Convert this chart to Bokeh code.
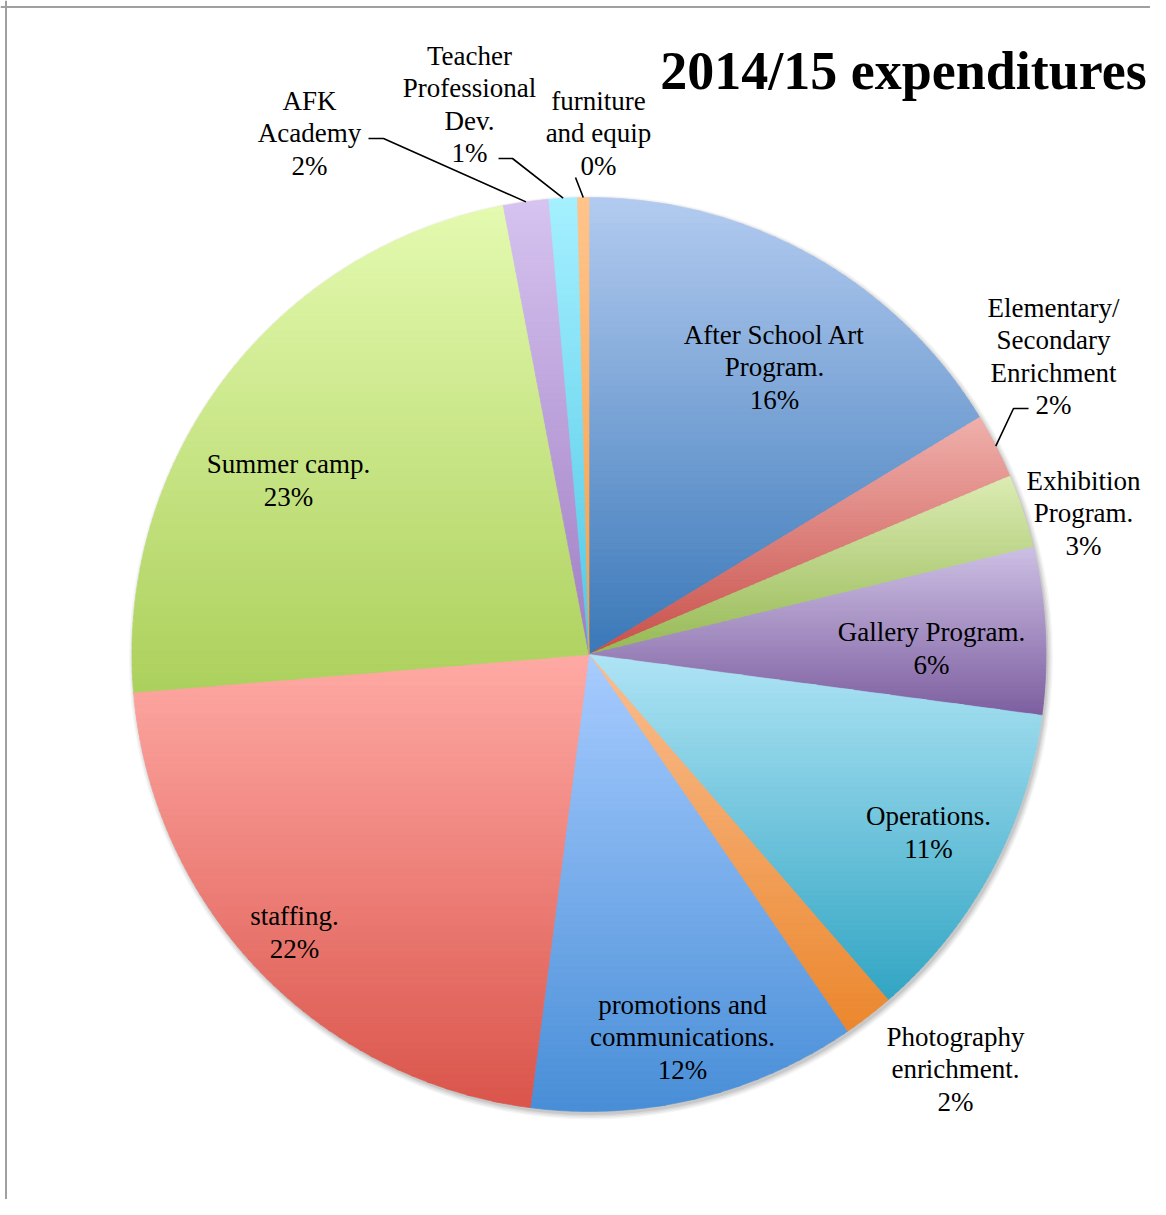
import numpy as np
from bokeh.plotting import figure
from bokeh.models import Range1d, Span, ColumnDataSource
from bokeh.embed import file_html
from bokeh.resources import INLINE
from bokeh.core.properties import value

# ---------------- data ----------------
categories = ["After School Art Program", "Elementary/ Secondary Enrichment",
              "Exhibition Program", "Gallery Program", "Operations",
              "Photography enrichment", "promotions and communications",
              "staffing", "Summer camp", "AFK Academy",
              "Teacher Professional Dev.", "furniture and equip"]
shares = [16.3, 2.3, 2.6, 5.9, 11.5, 1.8, 11.6, 21.6, 23.3, 1.6, 1.0, 0.4]
pct_labels = ["16%", "2%", "3%", "6%", "11%", "2%", "12%", "22%", "23%", "2%", "1%", "0%"]
label_names = ["After School Art\nProgram.", "Elementary/\nSecondary\nEnrichment",
               "Exhibition\nProgram.", "Gallery Program.", "Operations.",
               "Photography\nenrichment.", "promotions and\ncommunications.",
               "staffing.", "Summer camp.", "AFK\nAcademy",
               "Teacher\nProfessional\nDev.", "furniture\nand equip"]
title_text = "2014/15 expenditures"

# ---------------- styles / layout ----------------
top_colors = ["#b3cbf0", "#f0b0ac", "#dcecb4", "#cdc0e4", "#afe4f5", "#fabe91",
              "#a8ccff", "#ffaaa5", "#e4fab0", "#d6c4f0", "#a5f0ff", "#ffc48c"]
bot_colors = ["#3a78b8", "#c8504a", "#96b955", "#7d5fa0", "#32a5c3", "#eb872d",
              "#488ed7", "#da554b", "#acd05c", "#a07dc3", "#50c8e6", "#f5a046"]
CX, CY, R = 588.5, 654.0, 457.0
label_pos = [(774, 367), (1053, 356), (1083, 513), (931, 648), (928, 832),
             (955, 1069), (682, 1037), (294, 932), (288, 480), (309, 133),
             (469, 104), (598, 133)]
leader_elbows = {1: [(1028, 408), (1013, 408)],
                 9: [(368, 138), (383, 138)],
                 10: [(498, 158), (512, 158)],
                 11: [(575, 177)]}
FONT = "Liberation Serif"

W, H = 1150, 1199
p = figure(width=W, height=H, output_backend="svg", toolbar_location=None,
           x_range=Range1d(0, W), y_range=Range1d(H, 0),
           min_border=0, outline_line_color=None, background_fill_color="white")
p.axis.visible = False
p.grid.visible = False


def hex2rgb(h):
    h = h.lstrip("#")
    return np.array([int(h[i:i + 2], 16) for i in (0, 2, 4)], dtype=float)


def rgb2hex(c):
    c = np.clip(np.round(c), 0, 255).astype(int)
    return "#%02x%02x%02x" % tuple(c)


def clip_half(poly, y0, keep_ge):
    out = []
    n = len(poly)
    for i in range(n):
        P = poly[i]
        Q = poly[(i + 1) % n]
        inP = P[1] >= y0 if keep_ge else P[1] <= y0
        inQ = Q[1] >= y0 if keep_ge else Q[1] <= y0
        if inP:
            out.append(P)
        if inP != inQ:
            t = (y0 - P[1]) / (Q[1] - P[1])
            out.append((P[0] + t * (Q[0] - P[0]), y0))
    return out


# shadow
for k, a in zip([5, 3.5, 2, 0.5], [0.04, 0.05, 0.06, 0.08]):
    p.circle(x=[CX + 2], y=[CY + 3], radius=R + k, fill_color="black",
             fill_alpha=a, line_color=None)

total = float(sum(shares))
bounds = np.concatenate([[0.0], np.cumsum(shares) / total * 360.0])

xs_all, ys_all, cols_all = [], [], []
for i in range(len(shares)):
    a0, a1 = bounds[i], bounds[i + 1]
    n = max(3, int((a1 - a0) / 0.4) + 2)
    th = np.radians(np.linspace(a0, a1, n))
    poly = [(CX, CY)] + [(CX + R * np.sin(t), CY - R * np.cos(t)) for t in th]
    ys_poly = [q[1] for q in poly]
    ymin, ymax = min(ys_poly), max(ys_poly)
    nb = 70
    edges = np.linspace(ymin, ymax, nb + 1)
    ct, cb = hex2rgb(top_colors[i]), hex2rgb(bot_colors[i])
    for b in range(nb):
        y0, y1 = edges[b], edges[b + 1] + 1.0
        piece = clip_half(poly, y0, True)
        if len(piece) < 3:
            continue
        piece = clip_half(piece, y1, False)
        if len(piece) < 3:
            continue
        f = (b + 0.5) / nb
        xs_all.append([q[0] for q in piece])
        ys_all.append([q[1] for q in piece])
        cols_all.append(rgb2hex(ct + (cb - ct) * f))

p.patches(xs=xs_all, ys=ys_all, fill_color=cols_all, line_color=cols_all,
          line_width=0.6)

# leader lines
for i, elbows in leader_elbows.items():
    mid = np.radians((bounds[i] + bounds[i + 1]) / 2.0)
    ex, ey = CX + R * np.sin(mid), CY - R * np.cos(mid)
    lx = [q[0] for q in elbows] + [ex]
    ly = [q[1] for q in elbows] + [ey]
    p.line(lx, ly, line_color="black", line_width=1.6)

# labels
src = ColumnDataSource(dict(
    x=[q[0] for q in label_pos], y=[q[1] for q in label_pos],
    text=[n + "\n" + pc for n, pc in zip(label_names, pct_labels)]))
p.text(x="x", y="y", text="text", source=src, text_font=value(FONT),
       text_font_size="27px", text_align="center", text_baseline="middle",
       text_line_height=1.07, text_color="black")

# title
p.text(x=[903], y=[70], text=[title_text], text_font=value(FONT),
       text_font_size="54px", text_font_style="bold", text_align="center",
       text_baseline="middle", text_color="black")

# frame lines (top / left)
p.add_layout(Span(location=6.5, dimension="width", line_color="#a0a0a0", line_width=2))
p.add_layout(Span(location=5.5, dimension="height", line_color="#a0a0a0", line_width=2))

open("out.html", "w").write(file_html(p, INLINE))
